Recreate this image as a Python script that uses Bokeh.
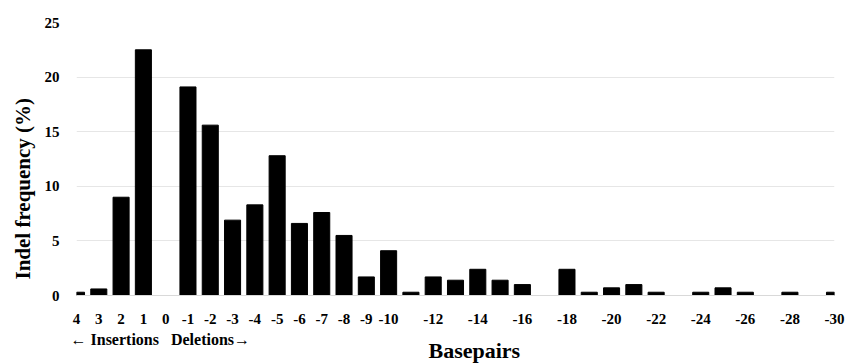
from bokeh.plotting import figure
from bokeh.models import Range1d, FixedTicker, Title
from bokeh.embed import file_html
from bokeh.resources import INLINE

# ---- data ----
basepairs = [4, 3, 2, 1, 0, -1, -2, -3, -4, -5, -6, -7, -8, -9, -10,
             -11, -12, -13, -14, -15, -16, -17, -18, -19, -20,
             -21, -22, -23, -24, -25, -26, -27, -28, -29, -30]
indel_freq = [0.3, 0.6, 9.0, 22.5, 0.0, 19.1, 15.6, 6.9, 8.3, 12.8, 6.6, 7.6, 5.5, 1.7, 4.1,
              0.3, 1.7, 1.4, 2.4, 1.4, 1.0, 0.0, 2.4, 0.3, 0.7,
              1.0, 0.3, 0.0, 0.3, 0.7, 0.3, 0.0, 0.3, 0.0, 0.3]
labelled_basepairs = [4, 3, 2, 1, 0, -1, -2, -3, -4, -5, -6, -7, -8, -9, -10,
                      -12, -14, -16, -18, -20, -22, -24, -26, -28, -30]
y_ticks = [0, 5, 10, 15, 20, 25]

y_title = "Indel frequency (%)"
x_title = "Basepairs"
direction_note = "\u2190\u00a0Insertions\u00a0\u00a0\u00a0Deletions\u2192"

FONT = "Liberation Serif"

x_pos = list(range(len(basepairs)))

p = figure(width=846, height=364,
           x_range=Range1d(0, len(basepairs) - 1),
           y_range=Range1d(0, 25),
           output_backend="svg", toolbar_location=None,
           min_border_left=76, min_border_right=12,
           min_border_top=22, min_border_bottom=69)

p.vbar(x=x_pos, top=indel_freq, width=0.72, fill_color="black", line_color="black")

p.outline_line_color = None
p.background_fill_color = "white"
p.border_fill_color = "white"

# x axis
tick_idx = [basepairs.index(b) for b in labelled_basepairs]
p.xaxis.ticker = FixedTicker(ticks=tick_idx)
p.xaxis.major_label_overrides = {i: str(basepairs[i]) for i in tick_idx}
p.xaxis.axis_line_color = "#d9d9d9"
p.xaxis.major_tick_line_color = None
p.xaxis.minor_tick_line_color = None
p.xaxis.major_tick_out = 0
p.xaxis.major_tick_in = 0
p.xaxis.major_label_standoff = 18
p.xaxis.major_label_text_font = FONT
p.xaxis.major_label_text_font_style = "bold"
p.xaxis.major_label_text_font_size = "15px"
p.xaxis.major_label_text_color = "black"

# y axis
p.yaxis.ticker = FixedTicker(ticks=y_ticks)
p.yaxis.axis_line_color = None
p.yaxis.major_tick_line_color = None
p.yaxis.minor_tick_line_color = None
p.yaxis.major_tick_out = 0
p.yaxis.major_tick_in = 0
p.yaxis.major_label_standoff = 17
p.yaxis.major_label_text_font = FONT
p.yaxis.major_label_text_font_style = "bold"
p.yaxis.major_label_text_font_size = "15px"
p.yaxis.major_label_text_color = "black"

# grid
p.xgrid.grid_line_color = None
p.ygrid.ticker = FixedTicker(ticks=y_ticks)
p.ygrid.grid_line_color = "#e6e6e6"
p.ygrid.grid_line_width = 1

# titles in the side panels
p.add_layout(Title(text=y_title, align="left", offset=16, standoff=14,
                   text_font=FONT, text_font_style="bold",
                   text_font_size="21px", text_color="black"), "left")
p.add_layout(Title(text=direction_note, align="left", offset=-6, standoff=4,
                   text_font=FONT, text_font_style="bold",
                   text_font_size="16px", text_color="black"), "below")
p.add_layout(Title(text=x_title, align="left", offset=352, standoff=-27,
                   text_font=FONT, text_font_style="bold",
                   text_font_size="22px", text_color="black"), "below")

open("out.html", "w").write(file_html(p, INLINE))
